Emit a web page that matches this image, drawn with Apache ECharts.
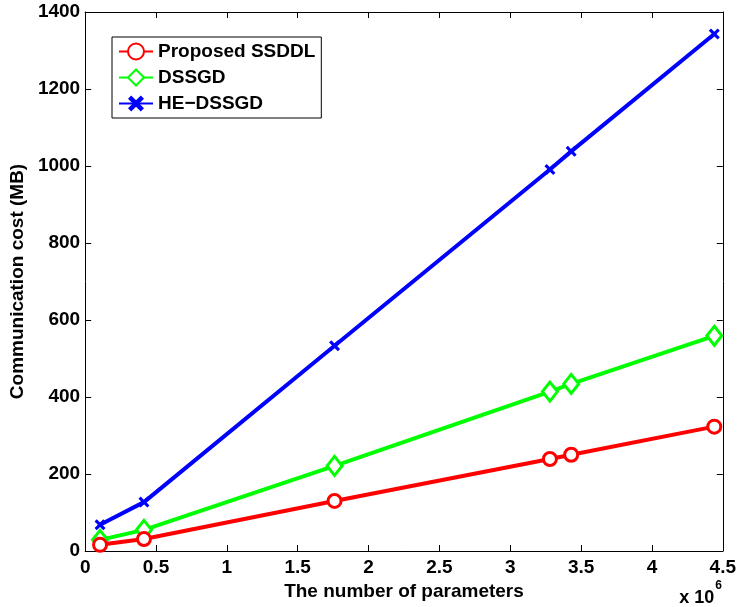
<!DOCTYPE html>
<html><head><meta charset="utf-8">
<script src="https://cdn.jsdelivr.net/npm/echarts@6/dist/echarts.min.js"></script>
<style>html,body{margin:0;padding:0;background:#fff}#c{width:739px;height:607px}</style>
</head><body><div id="c"></div>
<script>
const xParams = [0.105, 0.415, 1.76, 3.28, 3.43, 4.44];
const ssddl = [16, 31, 130, 239, 250, 323];
const dssgd = [29, 55, 221, 414, 434, 559];
const heDssgd = [68, 127, 533, 991, 1038, 1343];
const xTicks = [0, 0.5, 1, 1.5, 2, 2.5, 3, 3.5, 4, 4.5];
const yTicks = [0, 200, 400, 600, 800, 1000, 1200, 1400];

const F = 'Liberation Sans, Arial, sans-serif';
const FS = 19;
const pair = a => xParams.map((x, i) => [x, a[i]]);
const cross = 'path://M2,0 L5,3 L8,0 L10,2 L7,5 L10,8 L8,10 L5,7 L2,10 L0,8 L3,5 L0,2 Z';

const chart = echarts.init(document.getElementById('c'));
const axisCommon = () => ({
  axisLine: {show: true, onZero: false, lineStyle: {color: '#000', width: 1}},
  axisTick: {show: true, inside: true, length: 6, lineStyle: {color: '#000'}},
  splitLine: {show: false}
});
chart.setOption({
  animation: false,
  grid: {left: 83, right: 16, top: 12, bottom: 56},
  legend: {
    orient: 'vertical', left: 112, top: 37,
    padding: [5, 6, 5, 6], itemGap: 7, itemWidth: 34, itemHeight: 20,
    backgroundColor: '#fff', borderColor: '#000', borderWidth: 1, borderRadius: 0,
    textStyle: {fontFamily: F, fontWeight: 'bold', fontSize: FS, color: '#000'},
    data: ['Proposed SSDDL', 'DSSGD', 'HE\u2212DSSGD']
  },
  xAxis: [
    Object.assign({type: 'value', min: 0, max: 4.5, interval: 0.5, position: 'bottom',
      axisLabel: {fontFamily: F, fontWeight: 'bold', fontSize: FS, color: '#000', margin: 7,
        formatter: v => xTicks.includes(v) ? String(v) : ''},
      name: 'The number of parameters', nameLocation: 'middle', nameGap: 25,
      nameTextStyle: {fontFamily: F, fontWeight: 'bold', fontSize: FS, color: '#000'}}, axisCommon()),
    Object.assign({type: 'value', min: 0, max: 4.5, interval: 0.5, position: 'top',
      axisLabel: {show: false}}, axisCommon())
  ],
  yAxis: [
    Object.assign({type: 'value', min: 0, max: 1400, interval: 200, position: 'left',
      axisLabel: {fontFamily: F, fontWeight: 'bold', fontSize: FS, color: '#000', margin: 5,
        formatter: v => yTicks.includes(v) ? String(v) : ''},
      name: 'Communication cost (MB)', nameLocation: 'middle', nameGap: 53,
      nameTextStyle: {fontFamily: F, fontWeight: 'bold', fontSize: FS, color: '#000'}}, axisCommon()),
    Object.assign({type: 'value', min: 0, max: 1400, interval: 200, position: 'right',
      axisLabel: {show: false}}, axisCommon())
  ],
  graphic: [{
    type: 'text', right: 17, top: 580,
    style: {
      text: '{a|x 10}{b|6}', fontFamily: F, fontWeight: 'bold', fill: '#000',
      rich: {a: {fontFamily: F, fontWeight: 'bold', fontSize: 18, verticalAlign: 'bottom', padding: [9,0,0,0]},
             b: {fontFamily: F, fontWeight: 'bold', fontSize: 12, verticalAlign: 'top', padding: [0,0,10,1]}}
    }
  }],
  series: [
    {name: 'Proposed SSDDL', type: 'line', data: pair(ssddl), symbol: 'circle', symbolSize: 13,
      lineStyle: {color: '#ff0000', width: 4}, itemStyle: {color: '#fff', borderColor: '#ff0000', borderWidth: 3}, z: 3},
    {name: 'DSSGD', type: 'line', data: pair(dssgd), symbol: 'diamond', symbolSize: [15, 19],
      lineStyle: {color: '#00ff00', width: 4}, itemStyle: {color: '#fff', borderColor: '#00ff00', borderWidth: 3}, z: 2},
    {name: 'HE\u2212DSSGD', type: 'line', data: pair(heDssgd), symbol: cross, symbolSize: 11,
      lineStyle: {color: '#0000ff', width: 4}, itemStyle: {color: '#0000ff', borderColor: '#0000ff', borderWidth: 0}, z: 1}
  ]
});
</script></body></html>
